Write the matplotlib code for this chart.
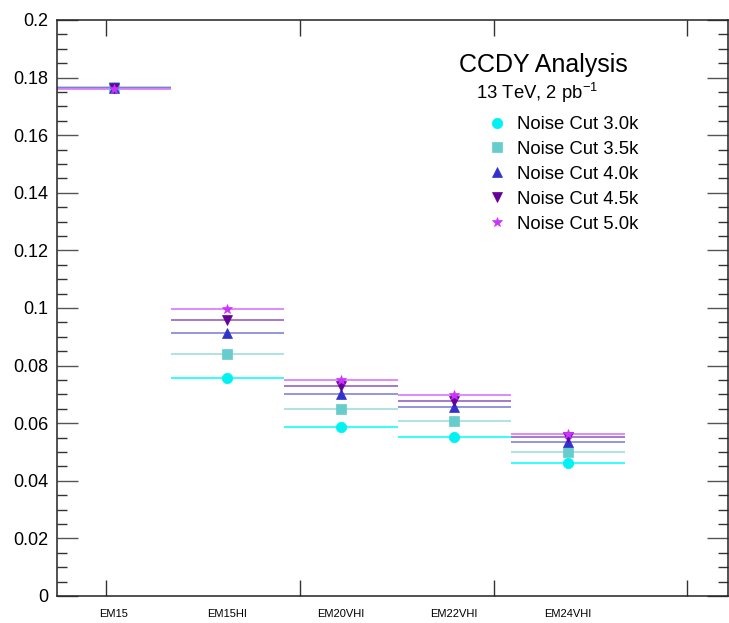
import matplotlib
matplotlib.use("Agg")
import matplotlib.pyplot as plt
import matplotlib.transforms as mtransforms
from matplotlib.ticker import MultipleLocator, FuncFormatter

plt.rcParams['font.family'] = ['Liberation Sans', 'DejaVu Sans']

categories = ["EM15", "EM15HI", "EM20VHI", "EM22VHI", "EM24VHI"]
series_labels = ["Noise Cut 3.0k", "Noise Cut 3.5k", "Noise Cut 4.0k", "Noise Cut 4.5k", "Noise Cut 5.0k"]
cut_30 = [0.1768, 0.0756, 0.0588, 0.0553, 0.0463]
cut_35 = [0.1767, 0.0840, 0.0648, 0.0609, 0.0500]
cut_40 = [0.1765, 0.0914, 0.0701, 0.0657, 0.0535]
cut_45 = [0.1763, 0.0958, 0.0729, 0.0678, 0.0553]
cut_50 = [0.1761, 0.0995, 0.0750, 0.0697, 0.0563]
series = [cut_30, cut_35, cut_40, cut_45, cut_50]

markers = ['o', 's', '^', 'v', '*']
msizes = [7.5, 6.5, 7, 7, 7]
mcolors = ['#00f2f2', '#66cccc', '#3333cc', '#660099', '#cc33ff']
lcolors = ['#22ffff', '#a8e2e2', '#8c8cdd', '#9d70c0', '#dd80ff']

fig = plt.figure(figsize=(7.29, 6.23), dpi=100)
ax = fig.add_axes([57/729, 27/623, 671/729, 576/623])

x = [i + 0.5 for i in range(len(categories))]
handles = []
for vals, mk, ms, mc, lc, lab in zip(series, markers, msizes, mcolors, lcolors, series_labels):
    ax.errorbar(x, vals, xerr=0.5, fmt='none', ecolor=lc, elinewidth=1.3, capsize=0)
for vals, mk, ms, mc, lc, lab in zip(series, markers, msizes, mcolors, lcolors, series_labels):
    h, = ax.plot(x, vals, linestyle='none', marker=mk, markersize=ms,
                 color=mc, markeredgewidth=0.5, markeredgecolor=mc, label=lab)
    handles.append(h)

ax.set_xlim(0, 671/113.5)
ax.set_ylim(0, 0.2)

ax.yaxis.set_major_locator(MultipleLocator(0.02))
ax.yaxis.set_minor_locator(MultipleLocator(0.005))
ax.yaxis.set_major_formatter(FuncFormatter(lambda v, p: "%g" % round(v, 3)))
ax.tick_params(axis='y', which='major', direction='in', length=15, width=1.0,
               color='#555555', labelsize=13, pad=6, right=True, left=True)
ax.tick_params(axis='y', which='minor', direction='in', length=7, width=1.0,
               color='#333333', right=True, left=True)

xt = [(p - 57) / 113.5 for p in (106, 300, 494, 687)]
ax.set_xticks(xt)
ax.set_xticklabels([])
ax.tick_params(axis='x', which='major', direction='in', length=11.5, width=1.0,
               color='#333333', top=True, bottom=True)

trans = mtransforms.blended_transform_factory(ax.transData, ax.transAxes)
for xi, c in zip(x, categories):
    ax.text(xi, -18/576, c, transform=trans, ha='center', va='center', fontsize=8)

for s in ax.spines.values():
    s.set_linewidth(1.1)
    s.set_color('#222222')

ax.text((543-57)/671, (596-65)/576, "CCDY Analysis", transform=ax.transAxes,
        ha='center', va='center', fontsize=18)
ax.text((537-57)/671, (596-93)/576, "13 TeV, 2 pb$^{\\mathregular{-1}}$", transform=ax.transAxes,
        ha='center', va='center', fontsize=13.3)

leg = ax.legend(handles=handles, loc='upper left', bbox_to_anchor=((488-57)/671, (596-116)/576),
                frameon=False, fontsize=13.3, handlelength=1.0, handletextpad=0.55,
                labelspacing=0.43, borderpad=0, borderaxespad=0)

fig.savefig("out.png", dpi=100)
